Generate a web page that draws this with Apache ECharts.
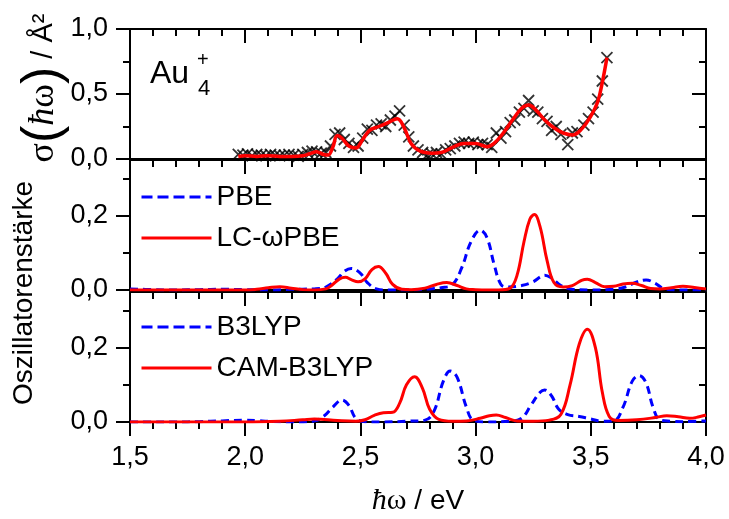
<!DOCTYPE html>
<html><head><meta charset="utf-8">
<script src="https://cdn.jsdelivr.net/npm/echarts@6/dist/echarts.min.js"></script>
<style>html,body{margin:0;padding:0;background:#fff}#c{width:729px;height:519px}</style>
</head><body><div id="c"></div>
<script>
// ---- data ----
const expEnergy = [1.97,1.99,2.01,2.03,2.05,2.07,2.09,2.11,2.13,2.15,2.17,2.19,2.21,2.23,2.25,2.27,2.29,2.31,2.33,2.35,2.37,2.39,2.41,2.43,2.45,2.47,2.49,2.51,2.53,2.55,2.57,2.59,2.61,2.63,2.65,2.67,2.69,2.71,2.73,2.75,2.77,2.79,2.81,2.83,2.85,2.87,2.89,2.91,2.93,2.95,2.97,2.99,3.01,3.03,3.05,3.07,3.09,3.11,3.13,3.15,3.17,3.19,3.21,3.23,3.25,3.27,3.29,3.31,3.33,3.35,3.37,3.40,3.42,3.44,3.47,3.49,3.51,3.53,3.55,3.57];
const expSigma  = [0.035,0.03,0.04,0.025,0.035,0.03,0.025,0.035,0.03,0.025,0.03,0.035,0.03,0.02,0.035,0.05,0.06,0.055,0.045,0.05,0.1,0.19,0.2,0.15,0.12,0.09,0.1,0.16,0.23,0.22,0.26,0.27,0.25,0.3,0.33,0.37,0.26,0.17,0.1,0.07,0.05,0.03,0.04,0.05,0.04,0.07,0.08,0.1,0.12,0.13,0.12,0.13,0.11,0.12,0.11,0.09,0.2,0.16,0.21,0.28,0.3,0.36,0.39,0.45,0.37,0.36,0.31,0.29,0.22,0.25,0.19,0.11,0.2,0.21,0.26,0.31,0.36,0.46,0.6,0.78];
const fitEnergy = [1.97,2.00,2.05,2.10,2.15,2.20,2.25,2.28,2.31,2.34,2.36,2.38,2.40,2.42,2.45,2.48,2.51,2.54,2.58,2.62,2.66,2.69,2.72,2.76,2.81,2.85,2.90,2.95,3.00,3.05,3.08,3.12,3.16,3.20,3.23,3.26,3.30,3.34,3.38,3.42,3.46,3.50,3.53,3.55,3.57];
const fitSigma  = [0.02,0.025,0.02,0.025,0.02,0.02,0.025,0.04,0.055,0.035,0.03,0.09,0.18,0.16,0.1,0.085,0.15,0.22,0.25,0.28,0.31,0.24,0.12,0.06,0.045,0.05,0.09,0.12,0.12,0.095,0.12,0.2,0.3,0.39,0.415,0.38,0.3,0.24,0.2,0.185,0.23,0.33,0.44,0.59,0.78];

const pbeE = [1.50,1.60,1.70,1.80,1.90,2.00,2.10,2.20,2.30,2.35,2.40,2.43,2.46,2.50,2.53,2.57,2.62,2.70,2.80,2.85,2.90,2.94,2.98,3.02,3.05,3.08,3.11,3.14,3.20,3.25,3.28,3.30,3.33,3.37,3.42,3.50,3.60,3.65,3.70,3.74,3.78,3.82,3.90,4.00];
const pbeF = [0.003,0.001,0,0.001,0.002,0.001,0,0.002,0.003,0.008,0.03,0.05,0.058,0.045,0.02,0.003,0,0,0.003,0.006,0.015,0.06,0.13,0.161,0.14,0.07,0.015,0.008,0.012,0.022,0.035,0.04,0.032,0.012,0.002,0,0.002,0.008,0.022,0.027,0.018,0.003,0,0];
const lcE  = [1.50,1.60,1.70,1.80,1.90,2.00,2.05,2.10,2.15,2.20,2.25,2.30,2.35,2.38,2.41,2.435,2.46,2.49,2.52,2.55,2.578,2.61,2.64,2.68,2.72,2.78,2.83,2.875,2.92,2.96,3.00,3.05,3.10,3.15,3.18,3.21,3.235,3.255,3.28,3.31,3.34,3.38,3.42,3.46,3.485,3.52,3.56,3.60,3.64,3.68,3.72,3.76,3.80,3.85,3.90,3.95,4.00];
const lcF  = [0,0,0,0,0,0,0.002,0.006,0.009,0.005,0.001,0,0.003,0.015,0.03,0.034,0.028,0.022,0.03,0.055,0.063,0.045,0.015,0.002,0.001,0.005,0.015,0.02,0.012,0.003,0.001,0,0,0.005,0.04,0.13,0.19,0.203,0.17,0.08,0.02,0.008,0.012,0.026,0.029,0.02,0.009,0.01,0.016,0.018,0.012,0.004,0.003,0.006,0.01,0.007,0.003];
const b3E  = [1.50,1.60,1.70,1.80,1.90,2.00,2.05,2.10,2.20,2.30,2.34,2.38,2.42,2.45,2.48,2.52,2.60,2.70,2.78,2.82,2.86,2.89,2.92,2.96,2.99,3.05,3.15,3.20,3.24,3.28,3.30,3.33,3.36,3.40,3.45,3.50,3.55,3.60,3.64,3.68,3.71,3.74,3.77,3.80,3.85,3.90,4.00];
const b3F  = [0,0,0,0.001,0.003,0.005,0.004,0.002,0,0.003,0.015,0.04,0.059,0.045,0.01,0.001,0,0.002,0.005,0.03,0.11,0.137,0.12,0.04,0.005,0,0.002,0.01,0.045,0.08,0.086,0.07,0.035,0.02,0.015,0.008,0.002,0.003,0.04,0.11,0.125,0.105,0.04,0.006,0.002,0.001,0.003];
const camE = [1.50,1.80,2.00,2.15,2.25,2.30,2.40,2.48,2.52,2.56,2.60,2.64,2.67,2.70,2.735,2.77,2.80,2.84,2.90,2.96,3.02,3.06,3.09,3.13,3.18,3.25,3.32,3.37,3.41,3.45,3.485,3.52,3.55,3.58,3.62,3.70,3.78,3.83,3.88,3.93,3.97,4.00];
const camF = [0,0,0,0.002,0.006,0.008,0.004,0.002,0.006,0.018,0.025,0.026,0.05,0.1,0.122,0.09,0.035,0.007,0.002,0.003,0.01,0.017,0.019,0.012,0.003,0.002,0.005,0.02,0.1,0.21,0.25,0.2,0.08,0.015,0.004,0.006,0.012,0.017,0.014,0.01,0.014,0.019];

const xTickLabels = ['1,5','2,0','2,5','3,0','3,5','4,0'];
const names = ['PBE','LC-ωPBE','B3LYP','CAM-B3LYP'];

const zip = (a,b) => a.map((v,i)=>[v,b[i]]);
const FONT = '"Liberation Sans", Arial, sans-serif';
const SERIF = '"Liberation Serif", serif';
const BLK = '#000';
const fmt = v => v.toFixed(1).replace('.', ',');

const grids = [
  {left:130, right:23, top:29, height:130},
  {left:130, right:23, top:160, height:130},
  {left:130, right:23, top:292, height:130}
];

const xAxes = [];
for (let g=0; g<3; g++) {
  const base = {type:'value', gridIndex:g, min:1.5, max:4.0, interval:0.5, splitLine:{show:false},
    axisLine:{show:true, onZero:false, lineStyle:{color:BLK, width:2}}};
  xAxes.push(Object.assign({}, base, {position:'top',
    axisTick:{show:true, inside:true, length:14, lineStyle:{color:BLK,width:2}},
    minorTick:{show:true, splitNumber:5, length:7, lineStyle:{color:BLK,width:2}},
    axisLabel:{show:false}}));
  if (g < 2) {
    xAxes.push(Object.assign({}, base, {position:'bottom', axisTick:{show:false}, axisLabel:{show:false}}));
  } else {
    xAxes.push(Object.assign({}, base, {position:'bottom',
      axisTick:{show:true, inside:false, length:14, lineStyle:{color:BLK,width:2}},
      minorTick:{show:true, splitNumber:5, length:7, lineStyle:{color:BLK,width:2}},
      axisLabel:{show:true, margin:22, fontSize:27, color:BLK, fontFamily:FONT,
        formatter: v => xTickLabels[Math.round((v-1.5)/0.5)]},
      name:'{h|ħ}{w|ω}{t| / eV}', nameLocation:'middle', nameGap:64,
      nameTextStyle:{rich:{
        h:{fontSize:30, fontStyle:'italic', fontFamily:SERIF, color:BLK},
        w:{fontSize:30, fontFamily:SERIF, color:BLK},
        t:{fontSize:28, fontFamily:FONT, color:BLK}}}
    }));
  }
}

function yAxesFor(g, max, major, minor) {
  const base = {type:'value', gridIndex:g, min:0, max:max, splitLine:{show:false}};
  return [
    Object.assign({}, base, {position:'left',
      axisLine:{show:true, lineStyle:{color:BLK,width:2}},
      axisTick:{show:true, inside:false, length:14, customValues:major, lineStyle:{color:BLK,width:2}},
      axisLabel:{show:true, customValues:major, margin:22, fontSize:27, color:BLK, fontFamily:FONT, formatter:fmt}}),
    Object.assign({}, base, {position:'left',
      axisLine:{show:false},
      axisTick:{show:true, inside:false, length:7, customValues:minor, lineStyle:{color:BLK,width:2}},
      axisLabel:{show:false}}),
    Object.assign({}, base, {position:'right',
      axisLine:{show:true, lineStyle:{color:BLK,width:2}},
      axisTick:{show:true, inside:true, length:14, customValues:major, lineStyle:{color:BLK,width:2}},
      axisLabel:{show:false}}),
    Object.assign({}, base, {position:'right',
      axisLine:{show:false},
      axisTick:{show:true, inside:true, length:7, customValues:minor, lineStyle:{color:BLK,width:2}},
      axisLabel:{show:false}})
  ];
}
const yAxes = [].concat(
  yAxesFor(0, 1.0, [0,0.5,1.0], [0.25,0.75]),
  yAxesFor(1, 0.35, [0,0.2], [0.1,0.3]),
  yAxesFor(2, 0.35, [0,0.2], [0.1,0.3])
);

const redLine = {color:'#ff0000', width:3};
const blueLine = {color:'#0000ff', width:3, type:[8,5]};

const series = [
  {type:'scatter', name:'exp', xAxisIndex:1, yAxisIndex:0, data:zip(expEnergy, expSigma),
    symbol:'path://M0,0L10,10M10,0L0,10', symbolSize:11,
    itemStyle:{color:'rgba(0,0,0,0)', borderColor:BLK, borderWidth:1.8}, z:2},
  {type:'line', name:'fit', xAxisIndex:1, yAxisIndex:0, data:zip(fitEnergy, fitSigma),
    showSymbol:false, symbol:'none', smooth:0.4, lineStyle:{color:'#ff0000', width:3.5}, z:3},
  {type:'line', name:names[0], xAxisIndex:3, yAxisIndex:4, data:zip(pbeE, pbeF),
    symbol:'none', smooth:0.4, color:'#0000ff', lineStyle:blueLine, z:3},
  {type:'line', name:names[1], xAxisIndex:3, yAxisIndex:4, data:zip(lcE, lcF),
    symbol:'none', smooth:0.4, color:'#ff0000', lineStyle:redLine, z:4},
  {type:'line', name:names[2], xAxisIndex:5, yAxisIndex:8, data:zip(b3E, b3F),
    symbol:'none', smooth:0.4, color:'#0000ff', lineStyle:blueLine, z:3},
  {type:'line', name:names[3], xAxisIndex:5, yAxisIndex:8, data:zip(camE, camF),
    symbol:'none', smooth:0.4, color:'#ff0000', lineStyle:redLine, z:4}
];

const legendBase = {orient:'vertical', left:135, itemWidth:70, itemHeight:14, itemGap:9, itemTextGap:10,
  selectedMode:false, itemStyle:{opacity:0}, lineStyle:{width:3},
  textStyle:{fontSize:28, lineHeight:32, color:BLK, fontFamily:FONT}};
const dashItem = n => ({name:n, lineStyle:{width:3, type:[11,5]}});

const option = {
  animation:false,
  backgroundColor:'#fff',
  grid: grids,
  xAxis: xAxes,
  yAxis: yAxes,
  legend: [
    Object.assign({}, legendBase, {top:176, data:[dashItem(names[0]), names[1]]}),
    Object.assign({}, legendBase, {top:306, data:[dashItem(names[2]), names[3]]})
  ],
  series: series,
  graphic: [
    {type:'text', left:150, top:58, style:{text:'Au', font:'32px "Liberation Sans"', fill:BLK}},
    {type:'text', left:197, top:50, style:{text:'+', font:'20px "Liberation Sans"', fill:BLK}},
    {type:'text', left:198, top:78, style:{text:'4', font:'22px "Liberation Sans"', fill:BLK}},
    {type:'text', x:44, y:88, rotation:Math.PI/2,
      style:{text:'{s|σ}{p|(}{h|ħ}{w|ω}{p|)}{t| / Å²}', align:'center', verticalAlign:'middle',
        textAlign:'center', textVerticalAlign:'middle', fill:BLK,
        rich:{
          s:{fontSize:36, fontFamily:SERIF, fill:BLK},
          p:{fontSize:52, fontFamily:FONT, fill:BLK},
          h:{fontSize:36, fontStyle:'italic', fontFamily:SERIF, fill:BLK},
          w:{fontSize:36, fontFamily:SERIF, fill:BLK},
          t:{fontSize:29, fontFamily:FONT, fill:BLK}
        }}},
    {type:'text', x:24, y:293, rotation:Math.PI/2,
      style:{text:'Oszillatorenstärke', font:'28px "Liberation Sans"', align:'center', verticalAlign:'middle',
        textAlign:'center', textVerticalAlign:'middle', fill:BLK}}
  ]
};

const chart = echarts.init(document.getElementById('c'), null, {renderer:'canvas'});
chart.setOption(option);
</script>
</body></html>
